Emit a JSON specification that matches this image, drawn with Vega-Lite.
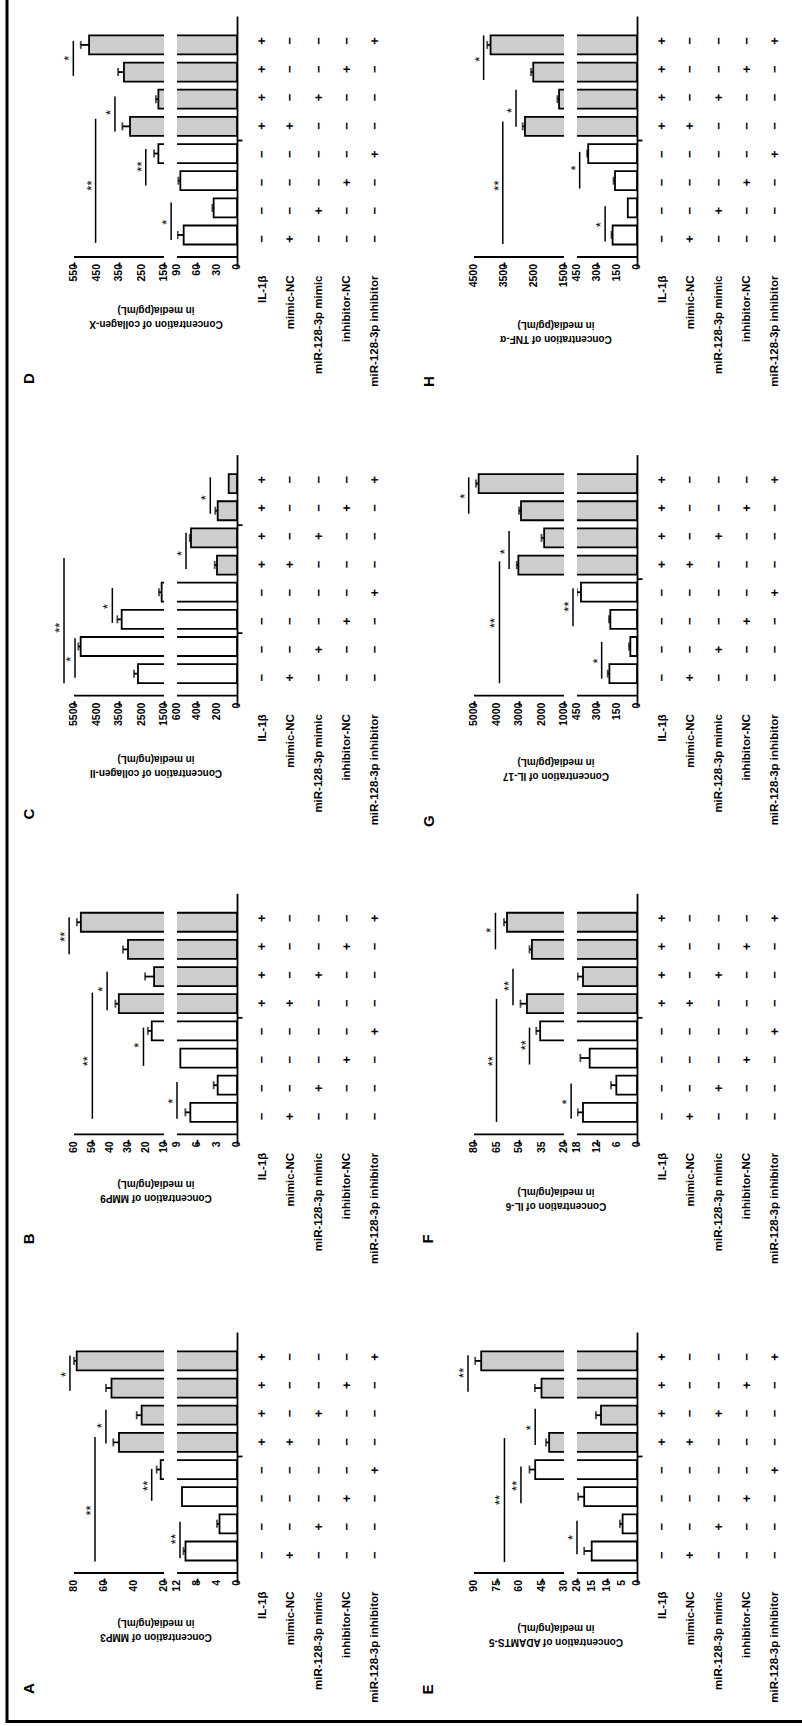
{
"$schema":"https://vega.github.io/schema/vega-lite/v6.json",
"padding":{"left":5.5,"top":0,"right":0,"bottom":0},
"background":"white",
"config":{
 "view":{"stroke":null},
 "font":"Liberation Sans",
 "axis":{"labelFont":"Liberation Sans","titleFont":"Liberation Sans","labelColor":"black","titleColor":"black","tickColor":"black","domainColor":"black","labelFontWeight":"bold","titleFontWeight":"bold","grid":false},
 "axisX":{"labelAngle":270,"tickSize":5,"tickWidth":1.8,"domain":false,"labelPadding":2,"labelFontSize":10.5,"labelFlush":false,"titleAngle":180,"titleFontSize":10,"titleLineHeight":14,"titleBaseline":"middle","titleAlign":"center"},
 "axisY":{"domainWidth":1.8,"tickSize":5,"tickWidth":1.8,"labels":false,"titleAngle":270,"titleFontSize":15,"titleAlign":"center","titleBaseline":"middle"},
 "rule":{"color":"black"},
 "tick":{"color":"black"},
 "text":{"color":"black","font":"Liberation Sans"}
},
"datasets":{
 "design":[
  {"pos":1,"IL-1β":"−","mimic-NC":"+","miR-128-3p mimic":"−","inhibitor-NC":"−","miR-128-3p inhibitor":"−"},
  {"pos":2,"IL-1β":"−","mimic-NC":"−","miR-128-3p mimic":"+","inhibitor-NC":"−","miR-128-3p inhibitor":"−"},
  {"pos":3,"IL-1β":"−","mimic-NC":"−","miR-128-3p mimic":"−","inhibitor-NC":"+","miR-128-3p inhibitor":"−"},
  {"pos":4,"IL-1β":"−","mimic-NC":"−","miR-128-3p mimic":"−","inhibitor-NC":"−","miR-128-3p inhibitor":"+"},
  {"pos":5,"IL-1β":"+","mimic-NC":"+","miR-128-3p mimic":"−","inhibitor-NC":"−","miR-128-3p inhibitor":"−"},
  {"pos":6,"IL-1β":"+","mimic-NC":"−","miR-128-3p mimic":"+","inhibitor-NC":"−","miR-128-3p inhibitor":"−"},
  {"pos":7,"IL-1β":"+","mimic-NC":"−","miR-128-3p mimic":"−","inhibitor-NC":"+","miR-128-3p inhibitor":"−"},
  {"pos":8,"IL-1β":"+","mimic-NC":"−","miR-128-3p mimic":"−","inhibitor-NC":"−","miR-128-3p inhibitor":"+"}
 ],
 "ticks":[
  {"panel":"A","v":0},{"panel":"A","v":4},{"panel":"A","v":8},{"panel":"A","v":12},{"panel":"A","v":20},{"panel":"A","v":40},{"panel":"A","v":60},{"panel":"A","v":80},
  {"panel":"B","v":0},{"panel":"B","v":3},{"panel":"B","v":6},{"panel":"B","v":9},{"panel":"B","v":10},{"panel":"B","v":20},{"panel":"B","v":30},{"panel":"B","v":40},{"panel":"B","v":50},{"panel":"B","v":60},
  {"panel":"C","v":0},{"panel":"C","v":200},{"panel":"C","v":400},{"panel":"C","v":600},{"panel":"C","v":1500},{"panel":"C","v":2500},{"panel":"C","v":3500},{"panel":"C","v":4500},{"panel":"C","v":5500},
  {"panel":"D","v":0},{"panel":"D","v":30},{"panel":"D","v":60},{"panel":"D","v":90},{"panel":"D","v":150},{"panel":"D","v":250},{"panel":"D","v":350},{"panel":"D","v":450},{"panel":"D","v":550},
  {"panel":"E","v":0},{"panel":"E","v":5},{"panel":"E","v":10},{"panel":"E","v":15},{"panel":"E","v":20},{"panel":"E","v":30},{"panel":"E","v":45},{"panel":"E","v":60},{"panel":"E","v":75},{"panel":"E","v":90},
  {"panel":"F","v":0},{"panel":"F","v":6},{"panel":"F","v":12},{"panel":"F","v":18},{"panel":"F","v":20},{"panel":"F","v":35},{"panel":"F","v":50},{"panel":"F","v":65},{"panel":"F","v":80},
  {"panel":"G","v":0},{"panel":"G","v":150},{"panel":"G","v":300},{"panel":"G","v":450},{"panel":"G","v":1000},{"panel":"G","v":2000},{"panel":"G","v":3000},{"panel":"G","v":4000},{"panel":"G","v":5000},
  {"panel":"H","v":0},{"panel":"H","v":150},{"panel":"H","v":300},{"panel":"H","v":450},{"panel":"H","v":1500},{"panel":"H","v":2500},{"panel":"H","v":3500},{"panel":"H","v":4500}
 ],
 "bars":[
  {"panel":"A","pos":1,"il":"−","value":10.3,"err":10.7},{"panel":"A","pos":2,"il":"−","value":3.5,"err":4.0},{"panel":"A","pos":3,"il":"−","value":11.0,"err":null},{"panel":"A","pos":4,"il":"−","value":22.2,"err":24.9},
  {"panel":"A","pos":5,"il":"+","value":50,"err":53.8},{"panel":"A","pos":6,"il":"+","value":34.9,"err":38.2},{"panel":"A","pos":7,"il":"+","value":55,"err":58.7},{"panel":"A","pos":8,"il":"+","value":78.2,"err":80},
  {"panel":"B","pos":1,"il":"−","value":7.0,"err":7.75},{"panel":"B","pos":2,"il":"−","value":2.9,"err":3.5},{"panel":"B","pos":3,"il":"−","value":8.5,"err":null},{"panel":"B","pos":4,"il":"−","value":16.8,"err":19},
  {"panel":"B","pos":5,"il":"+","value":35.1,"err":37},{"panel":"B","pos":6,"il":"+","value":15.5,"err":20.5},{"panel":"B","pos":7,"il":"+","value":30,"err":32.8},{"panel":"B","pos":8,"il":"+","value":56.2,"err":58.4},
  {"panel":"C","pos":1,"il":"−","value":2656,"err":2833},{"panel":"C","pos":2,"il":"−","value":5204,"err":5307},{"panel":"C","pos":3,"il":"−","value":3381,"err":3574},{"panel":"C","pos":4,"il":"−","value":1604,"err":1722},
  {"panel":"C","pos":5,"il":"+","value":200,"err":223},{"panel":"C","pos":6,"il":"+","value":460,"err":473},{"panel":"C","pos":7,"il":"+","value":193,"err":217},{"panel":"C","pos":8,"il":"+","value":83,"err":null},
  {"panel":"D","pos":1,"il":"−","value":80,"err":89},{"panel":"D","pos":2,"il":"−","value":35,"err":37},{"panel":"D","pos":3,"il":"−","value":85,"err":88},{"panel":"D","pos":4,"il":"−","value":175,"err":194},
  {"panel":"D","pos":5,"il":"+","value":301,"err":335},{"panel":"D","pos":6,"il":"+","value":175,"err":186},{"panel":"D","pos":7,"il":"+","value":328,"err":354},{"panel":"D","pos":8,"il":"+","value":483,"err":520},
  {"panel":"E","pos":1,"il":"−","value":15.1,"err":17.6},{"panel":"E","pos":2,"il":"−","value":4.8,"err":5.7},{"panel":"E","pos":3,"il":"−","value":17.6,"err":19.6},{"panel":"E","pos":4,"il":"−","value":49.2,"err":53},
  {"panel":"E","pos":5,"il":"+","value":39.9,"err":42},{"panel":"E","pos":6,"il":"+","value":12,"err":13.7},{"panel":"E","pos":7,"il":"+","value":45,"err":49.4},{"panel":"E","pos":8,"il":"+","value":85.2,"err":89.2},
  {"panel":"F","pos":1,"il":"−","value":16.2,"err":17.8},{"panel":"F","pos":2,"il":"−","value":6.2,"err":7.8},{"panel":"F","pos":3,"il":"−","value":14.2,"err":17},{"panel":"F","pos":4,"il":"−","value":35.9,"err":38.5},
  {"panel":"F","pos":5,"il":"+","value":44.7,"err":49},{"panel":"F","pos":6,"il":"+","value":16.2,"err":17.8},{"panel":"F","pos":7,"il":"+","value":41.4,"err":43},{"panel":"F","pos":8,"il":"+","value":58,"err":60},
  {"panel":"G","pos":1,"il":"−","value":207,"err":220},{"panel":"G","pos":2,"il":"−","value":50,"err":60},{"panel":"G","pos":3,"il":"−","value":200,"err":210},{"panel":"G","pos":4,"il":"−","value":420,"err":452},
  {"panel":"G","pos":5,"il":"+","value":3029,"err":3100},{"panel":"G","pos":6,"il":"+","value":1882,"err":2000},{"panel":"G","pos":7,"il":"+","value":2911,"err":3000},{"panel":"G","pos":8,"il":"+","value":4794,"err":4912},
  {"panel":"H","pos":1,"il":"−","value":183,"err":191},{"panel":"H","pos":2,"il":"−","value":69,"err":null},{"panel":"H","pos":3,"il":"−","value":165,"err":176},{"panel":"H","pos":4,"il":"−","value":366,"err":374},
  {"panel":"H","pos":5,"il":"+","value":2801,"err":2878},{"panel":"H","pos":6,"il":"+","value":1665,"err":1720},{"panel":"H","pos":7,"il":"+","value":2525,"err":2600},{"panel":"H","pos":8,"il":"+","value":3948,"err":4058}
 ],
 "axes":[
  {"panel":"A","z":0,"lo":12,"hi":20,"max":80},{"panel":"B","z":0,"lo":9,"hi":10,"max":60},{"panel":"C","z":0,"lo":600,"hi":1500,"max":5500},{"panel":"D","z":0,"lo":90,"hi":150,"max":550},
  {"panel":"E","z":0,"lo":20,"hi":30,"max":90},{"panel":"F","z":0,"lo":18,"hi":20,"max":80},{"panel":"G","z":0,"lo":450,"hi":1000,"max":5000},{"panel":"H","z":0,"lo":450,"hi":1500,"max":4500}
 ],
 "ann":[
  {"panel":"A","from":0.73,"to":2.08,"mid":1.44,"val":11.4,"label":"**"},{"panel":"A","from":2.85,"to":4.02,"mid":3.4,"val":28.2,"label":"**"},{"panel":"A","from":0.61,"to":5.2,"mid":2.49,"val":66,"label":"**"},{"panel":"A","from":4.96,"to":6.2,"mid":5.61,"val":58.7,"label":"*"},{"panel":"A","from":6.9,"to":8.2,"mid":7.5,"val":82.7,"label":"*"},
  {"panel":"B","from":0.76,"to":2.12,"mid":1.41,"val":9.0,"label":"*"},{"panel":"B","from":2.71,"to":4.12,"mid":3.47,"val":21.4,"label":"*"},{"panel":"B","from":0.76,"to":5.41,"mid":2.88,"val":49.8,"label":"**"},{"panel":"B","from":4.76,"to":6.18,"mid":5.53,"val":41.6,"label":"*"},{"panel":"B","from":6.82,"to":8.18,"mid":7.47,"val":62.7,"label":"**"},
  {"panel":"C","from":0.85,"to":2.3,"mid":1.53,"val":5455,"label":"*"},{"panel":"C","from":0.65,"to":5.26,"mid":2.69,"val":5944,"label":"**"},{"panel":"C","from":2.87,"to":4.15,"mid":3.47,"val":3796,"label":"*"},{"panel":"C","from":4.85,"to":6.19,"mid":5.43,"val":510,"label":"*"},{"panel":"C","from":6.89,"to":8.23,"mid":7.48,"val":267,"label":"*"},
  {"panel":"D","from":0.82,"to":2.2,"mid":1.47,"val":117,"label":"*"},{"panel":"D","from":2.82,"to":4.17,"mid":3.52,"val":231,"label":"**"},{"panel":"D","from":0.71,"to":5.28,"mid":2.82,"val":454,"label":"**"},{"panel":"D","from":4.81,"to":6.1,"mid":5.51,"val":368,"label":"*"},{"panel":"D","from":6.86,"to":8.15,"mid":7.51,"val":553,"label":"*"},
  {"panel":"E","from":0.88,"to":2.11,"mid":1.5,"val":20,"label":"*"},{"panel":"E","from":2.76,"to":4.11,"mid":3.4,"val":58.7,"label":"**"},{"panel":"E","from":0.59,"to":5.16,"mid":2.88,"val":69.7,"label":"**"},{"panel":"E","from":4.9,"to":6.24,"mid":5.54,"val":49.2,"label":"*"},{"panel":"E","from":6.86,"to":8.21,"mid":7.56,"val":94,"label":"**"},
  {"panel":"F","from":0.76,"to":2.06,"mid":1.38,"val":18.9,"label":"*"},{"panel":"F","from":2.76,"to":4.12,"mid":3.47,"val":43,"label":"**"},{"panel":"F","from":0.65,"to":5.18,"mid":2.88,"val":65,"label":"**"},{"panel":"F","from":4.94,"to":6.29,"mid":5.65,"val":54,"label":"**"},{"panel":"F","from":7.0,"to":8.35,"mid":7.71,"val":65.7,"label":"*"},
  {"panel":"G","from":0.82,"to":2.17,"mid":1.47,"val":265,"label":"*"},{"panel":"G","from":2.75,"to":4.15,"mid":3.47,"val":619,"label":"**"},{"panel":"G","from":0.65,"to":5.14,"mid":2.87,"val":3868,"label":"**"},{"panel":"G","from":4.85,"to":6.25,"mid":5.49,"val":3441,"label":"*"},{"panel":"G","from":6.89,"to":8.23,"mid":7.53,"val":5235,"label":"*"},
  {"panel":"H","from":0.76,"to":2.06,"mid":1.38,"val":239,"label":"*"},{"panel":"H","from":2.71,"to":4.06,"mid":3.47,"val":430,"label":"*"},{"panel":"H","from":0.67,"to":5.18,"mid":2.82,"val":3540,"label":"**"},{"panel":"H","from":4.99,"to":6.35,"mid":5.59,"val":3099,"label":"*"},{"panel":"H","from":6.71,"to":8.35,"mid":7.47,"val":4179,"label":"*"}
 ]
},
"spacing":0,
"vconcat":[
 {"spacing":12.5,"hconcat":[
  {"width":1,"height":1718,"data":{"values":[{"k":1}]},"mark":{"type":"point","opacity":0,"size":0,"strokeWidth":0},"encoding":{},"view":{"stroke":"black","strokeWidth":2}},
  {"spacing":14,"vconcat":[
   {"width":1,"height":1,"data":{"values":[{"k":1}]},"mark":{"type":"point","opacity":0,"size":0,"strokeWidth":0},"encoding":{}},
   {"columns":4,"bounds":"flush","align":"each","spacing":{"row":192.67,"column":11},"concat":[
       {"width":163,"height":246,"layer":[
        {"data":{"name":"bars"},"transform":[{"filter":"datum.panel=='D'"}],"mark":{"type":"bar","orient":"horizontal","size":19,"stroke":"black","strokeWidth":1.8},
         "encoding":{"x":{"field":"value","type":"quantitative","stack":null,"scale":{"domain":[0,90,150,550],"range":[163,103,90,0],"nice":false,"zero":false},"axis":{"labels":false,"values":[0,30,60,90,150,250,350,450,550],"title":["Concentration of collagen-X","in media(pg/mL)"],"titleY":61}},
          "y":{"field":"pos","type":"quantitative","scale":{"domain":[0.19,8.88],"nice":false,"zero":false},"axis":{"orient":"right","values":[4.5],"title":"D","titleX":-209,"titleY":362}},
          "fill":{"field":"il","type":"nominal","scale":{"domain":["−","+"],"range":["#ffffff","#cdcdcd"]},"legend":null}}},
        {"data":{"name":"bars"},"transform":[{"filter":"datum.panel=='D'"}],"mark":{"type":"rule","strokeWidth":1.8},"encoding":{"x":{"field":"value","type":"quantitative"},"x2":{"field":"err"},"y":{"field":"pos","type":"quantitative"}}},
        {"data":{"name":"bars"},"transform":[{"filter":"datum.panel=='D'"}],"mark":{"type":"tick","orient":"vertical","size":8,"thickness":1.8},"encoding":{"x":{"field":"err","type":"quantitative"},"y":{"field":"pos","type":"quantitative"}}},
        {"data":{"name":"axes"},"transform":[{"filter":"datum.panel=='D'"}],"mark":{"type":"rect","fill":"white"},"encoding":{"x":{"field":"lo","type":"quantitative"},"x2":{"field":"hi"}}},
        {"data":{"name":"axes"},"transform":[{"filter":"datum.panel=='D'"}],"mark":{"type":"rule","strokeWidth":1.8},"encoding":{"x":{"field":"z","type":"quantitative"},"x2":{"field":"lo"},"y":{"datum":0.19}}},
        {"data":{"name":"axes"},"transform":[{"filter":"datum.panel=='D'"}],"mark":{"type":"rule","strokeWidth":1.8},"encoding":{"x":{"field":"hi","type":"quantitative"},"x2":{"field":"max"},"y":{"datum":0.19}}},
        {"data":{"name":"ticks"},"transform":[{"filter":"datum.panel=='D'"}],"mark":{"type":"text","angle":270,"align":"right","baseline":"middle","dx":-7,"fontSize":10.5,"fontWeight":"bold"},"encoding":{"x":{"field":"v","type":"quantitative"},"y":{"datum":0.19},"text":{"field":"v","type":"quantitative","format":"d"}}},
        {"data":{"name":"ann"},"transform":[{"filter":"datum.panel=='D'"}],"mark":{"type":"rule","strokeWidth":1.5},"encoding":{"x":{"field":"val","type":"quantitative"},"y":{"field":"from","type":"quantitative"},"y2":{"field":"to"}}},
        {"data":{"name":"ann"},"transform":[{"filter":"datum.panel=='D'"}],"mark":{"type":"text","angle":270,"baseline":"alphabetic","fontSize":13},"encoding":{"x":{"field":"val","type":"quantitative"},"y":{"field":"mid","type":"quantitative"},"text":{"field":"label"}}}
       ]},
       {"width":214.5,"height":246,"data":{"name":"design"},"transform":[{"fold":["IL-1β","mimic-NC","miR-128-3p mimic","inhibitor-NC","miR-128-3p inhibitor"],"as":["factor","sign"]}],
        "mark":{"type":"text","angle":270,"fontSize":13,"fontWeight":"bold","baseline":"middle"},
        "encoding":{"x":{"field":"factor","type":"nominal","sort":["IL-1β","mimic-NC","miR-128-3p mimic","inhibitor-NC","miR-128-3p inhibitor"],"scale":{"range":[0,141]},"axis":{"title":null,"domain":false,"ticks":false,"labelPadding":13,"labelFontSize":11.5}},
         "y":{"field":"pos","type":"quantitative","scale":{"domain":[0.19,8.88],"nice":false,"zero":false},"axis":null},
         "text":{"field":"sign"}}},
       {"width":163,"height":246,"layer":[
        {"data":{"name":"bars"},"transform":[{"filter":"datum.panel=='H'"}],"mark":{"type":"bar","orient":"horizontal","size":19,"stroke":"black","strokeWidth":1.8},
         "encoding":{"x":{"field":"value","type":"quantitative","stack":null,"scale":{"domain":[0,450,1500,4500],"range":[163,103,90,0],"nice":false,"zero":false},"axis":{"labels":false,"values":[0,150,300,450,1500,2500,3500,4500],"title":["Concentration of TNF-α","in media(pg/mL)"],"titleY":76}},
          "y":{"field":"pos","type":"quantitative","scale":{"domain":[0.19,8.88],"nice":false,"zero":false},"axis":{"orient":"right","values":[4.5],"title":"H","titleX":-209,"titleY":365}},
          "fill":{"field":"il","type":"nominal","scale":{"domain":["−","+"],"range":["#ffffff","#cdcdcd"]},"legend":null}}},
        {"data":{"name":"bars"},"transform":[{"filter":"datum.panel=='H'"}],"mark":{"type":"rule","strokeWidth":1.8},"encoding":{"x":{"field":"value","type":"quantitative"},"x2":{"field":"err"},"y":{"field":"pos","type":"quantitative"}}},
        {"data":{"name":"bars"},"transform":[{"filter":"datum.panel=='H'"}],"mark":{"type":"tick","orient":"vertical","size":8,"thickness":1.8},"encoding":{"x":{"field":"err","type":"quantitative"},"y":{"field":"pos","type":"quantitative"}}},
        {"data":{"name":"axes"},"transform":[{"filter":"datum.panel=='H'"}],"mark":{"type":"rect","fill":"white"},"encoding":{"x":{"field":"lo","type":"quantitative"},"x2":{"field":"hi"}}},
        {"data":{"name":"axes"},"transform":[{"filter":"datum.panel=='H'"}],"mark":{"type":"rule","strokeWidth":1.8},"encoding":{"x":{"field":"z","type":"quantitative"},"x2":{"field":"lo"},"y":{"datum":0.19}}},
        {"data":{"name":"axes"},"transform":[{"filter":"datum.panel=='H'"}],"mark":{"type":"rule","strokeWidth":1.8},"encoding":{"x":{"field":"hi","type":"quantitative"},"x2":{"field":"max"},"y":{"datum":0.19}}},
        {"data":{"name":"ticks"},"transform":[{"filter":"datum.panel=='H'"}],"mark":{"type":"text","angle":270,"align":"right","baseline":"middle","dx":-7,"fontSize":10.5,"fontWeight":"bold"},"encoding":{"x":{"field":"v","type":"quantitative"},"y":{"datum":0.19},"text":{"field":"v","type":"quantitative","format":"d"}}},
        {"data":{"name":"ann"},"transform":[{"filter":"datum.panel=='H'"}],"mark":{"type":"rule","strokeWidth":1.5},"encoding":{"x":{"field":"val","type":"quantitative"},"y":{"field":"from","type":"quantitative"},"y2":{"field":"to"}}},
        {"data":{"name":"ann"},"transform":[{"filter":"datum.panel=='H'"}],"mark":{"type":"text","angle":270,"baseline":"alphabetic","fontSize":13},"encoding":{"x":{"field":"val","type":"quantitative"},"y":{"field":"mid","type":"quantitative"},"text":{"field":"label"}}}
       ]},
       {"width":141,"height":246,"data":{"name":"design"},"transform":[{"fold":["IL-1β","mimic-NC","miR-128-3p mimic","inhibitor-NC","miR-128-3p inhibitor"],"as":["factor","sign"]}],
        "mark":{"type":"text","angle":270,"fontSize":13,"fontWeight":"bold","baseline":"middle"},
        "encoding":{"x":{"field":"factor","type":"nominal","sort":["IL-1β","mimic-NC","miR-128-3p mimic","inhibitor-NC","miR-128-3p inhibitor"],"axis":{"title":null,"domain":false,"ticks":false,"labelPadding":13,"labelFontSize":11.5}},
         "y":{"field":"pos","type":"quantitative","scale":{"domain":[0.19,8.88],"nice":false,"zero":false},"axis":null},
         "text":{"field":"sign"}}},
       {"width":163,"height":246,"layer":[
        {"data":{"name":"bars"},"transform":[{"filter":"datum.panel=='C'"}],"mark":{"type":"bar","orient":"horizontal","size":19,"stroke":"black","strokeWidth":1.8},
         "encoding":{"x":{"field":"value","type":"quantitative","stack":null,"scale":{"domain":[0,600,1500,5500],"range":[163,103,90,0],"nice":false,"zero":false},"axis":{"labels":false,"values":[0,200,400,600,1500,2500,3500,4500,5500],"title":["Concentration of collagen-II","in media(ng/mL)"],"titleY":72}},
          "y":{"field":"pos","type":"quantitative","scale":{"domain":[0.19,8.88],"nice":false,"zero":false},"axis":{"orient":"right","values":[2.5,6.5],"title":"C","titleX":-209,"titleY":359}},
          "fill":{"field":"il","type":"nominal","scale":{"domain":["−","+"],"range":["#ffffff","#cdcdcd"]},"legend":null}}},
        {"data":{"name":"bars"},"transform":[{"filter":"datum.panel=='C'"}],"mark":{"type":"rule","strokeWidth":1.8},"encoding":{"x":{"field":"value","type":"quantitative"},"x2":{"field":"err"},"y":{"field":"pos","type":"quantitative"}}},
        {"data":{"name":"bars"},"transform":[{"filter":"datum.panel=='C'"}],"mark":{"type":"tick","orient":"vertical","size":8,"thickness":1.8},"encoding":{"x":{"field":"err","type":"quantitative"},"y":{"field":"pos","type":"quantitative"}}},
        {"data":{"name":"axes"},"transform":[{"filter":"datum.panel=='C'"}],"mark":{"type":"rect","fill":"white"},"encoding":{"x":{"field":"lo","type":"quantitative"},"x2":{"field":"hi"}}},
        {"data":{"name":"axes"},"transform":[{"filter":"datum.panel=='C'"}],"mark":{"type":"rule","strokeWidth":1.8},"encoding":{"x":{"field":"z","type":"quantitative"},"x2":{"field":"lo"},"y":{"datum":0.19}}},
        {"data":{"name":"axes"},"transform":[{"filter":"datum.panel=='C'"}],"mark":{"type":"rule","strokeWidth":1.8},"encoding":{"x":{"field":"hi","type":"quantitative"},"x2":{"field":"max"},"y":{"datum":0.19}}},
        {"data":{"name":"ticks"},"transform":[{"filter":"datum.panel=='C'"}],"mark":{"type":"text","angle":270,"align":"right","baseline":"middle","dx":-7,"fontSize":10.5,"fontWeight":"bold"},"encoding":{"x":{"field":"v","type":"quantitative"},"y":{"datum":0.19},"text":{"field":"v","type":"quantitative","format":"d"}}},
        {"data":{"name":"ann"},"transform":[{"filter":"datum.panel=='C'"}],"mark":{"type":"rule","strokeWidth":1.5},"encoding":{"x":{"field":"val","type":"quantitative"},"y":{"field":"from","type":"quantitative"},"y2":{"field":"to"}}},
        {"data":{"name":"ann"},"transform":[{"filter":"datum.panel=='C'"}],"mark":{"type":"text","angle":270,"baseline":"alphabetic","fontSize":13},"encoding":{"x":{"field":"val","type":"quantitative"},"y":{"field":"mid","type":"quantitative"},"text":{"field":"label"}}}
       ]},
       {"width":214.5,"height":246,"data":{"name":"design"},"transform":[{"fold":["IL-1β","mimic-NC","miR-128-3p mimic","inhibitor-NC","miR-128-3p inhibitor"],"as":["factor","sign"]}],
        "mark":{"type":"text","angle":270,"fontSize":13,"fontWeight":"bold","baseline":"middle"},
        "encoding":{"x":{"field":"factor","type":"nominal","sort":["IL-1β","mimic-NC","miR-128-3p mimic","inhibitor-NC","miR-128-3p inhibitor"],"scale":{"range":[0,141]},"axis":{"title":null,"domain":false,"ticks":false,"labelPadding":13,"labelFontSize":11.5}},
         "y":{"field":"pos","type":"quantitative","scale":{"domain":[0.19,8.88],"nice":false,"zero":false},"axis":null},
         "text":{"field":"sign"}}},
       {"width":163,"height":246,"layer":[
        {"data":{"name":"bars"},"transform":[{"filter":"datum.panel=='G'"}],"mark":{"type":"bar","orient":"horizontal","size":19,"stroke":"black","strokeWidth":1.8},
         "encoding":{"x":{"field":"value","type":"quantitative","stack":null,"scale":{"domain":[0,450,1000,5000],"range":[163,103,90,0],"nice":false,"zero":false},"axis":{"labels":false,"values":[0,150,300,450,1000,2000,3000,4000,5000],"title":["Concentration of IL-17","in media(pg/mL)"],"titleY":75}},
          "y":{"field":"pos","type":"quantitative","scale":{"domain":[0.19,8.88],"nice":false,"zero":false},"axis":{"orient":"right","values":[4.5],"title":"G","titleX":-209,"titleY":366}},
          "fill":{"field":"il","type":"nominal","scale":{"domain":["−","+"],"range":["#ffffff","#cdcdcd"]},"legend":null}}},
        {"data":{"name":"bars"},"transform":[{"filter":"datum.panel=='G'"}],"mark":{"type":"rule","strokeWidth":1.8},"encoding":{"x":{"field":"value","type":"quantitative"},"x2":{"field":"err"},"y":{"field":"pos","type":"quantitative"}}},
        {"data":{"name":"bars"},"transform":[{"filter":"datum.panel=='G'"}],"mark":{"type":"tick","orient":"vertical","size":8,"thickness":1.8},"encoding":{"x":{"field":"err","type":"quantitative"},"y":{"field":"pos","type":"quantitative"}}},
        {"data":{"name":"axes"},"transform":[{"filter":"datum.panel=='G'"}],"mark":{"type":"rect","fill":"white"},"encoding":{"x":{"field":"lo","type":"quantitative"},"x2":{"field":"hi"}}},
        {"data":{"name":"axes"},"transform":[{"filter":"datum.panel=='G'"}],"mark":{"type":"rule","strokeWidth":1.8},"encoding":{"x":{"field":"z","type":"quantitative"},"x2":{"field":"lo"},"y":{"datum":0.19}}},
        {"data":{"name":"axes"},"transform":[{"filter":"datum.panel=='G'"}],"mark":{"type":"rule","strokeWidth":1.8},"encoding":{"x":{"field":"hi","type":"quantitative"},"x2":{"field":"max"},"y":{"datum":0.19}}},
        {"data":{"name":"ticks"},"transform":[{"filter":"datum.panel=='G'"}],"mark":{"type":"text","angle":270,"align":"right","baseline":"middle","dx":-7,"fontSize":10.5,"fontWeight":"bold"},"encoding":{"x":{"field":"v","type":"quantitative"},"y":{"datum":0.19},"text":{"field":"v","type":"quantitative","format":"d"}}},
        {"data":{"name":"ann"},"transform":[{"filter":"datum.panel=='G'"}],"mark":{"type":"rule","strokeWidth":1.5},"encoding":{"x":{"field":"val","type":"quantitative"},"y":{"field":"from","type":"quantitative"},"y2":{"field":"to"}}},
        {"data":{"name":"ann"},"transform":[{"filter":"datum.panel=='G'"}],"mark":{"type":"text","angle":270,"baseline":"alphabetic","fontSize":13},"encoding":{"x":{"field":"val","type":"quantitative"},"y":{"field":"mid","type":"quantitative"},"text":{"field":"label"}}}
       ]},
       {"width":141,"height":246,"data":{"name":"design"},"transform":[{"fold":["IL-1β","mimic-NC","miR-128-3p mimic","inhibitor-NC","miR-128-3p inhibitor"],"as":["factor","sign"]}],
        "mark":{"type":"text","angle":270,"fontSize":13,"fontWeight":"bold","baseline":"middle"},
        "encoding":{"x":{"field":"factor","type":"nominal","sort":["IL-1β","mimic-NC","miR-128-3p mimic","inhibitor-NC","miR-128-3p inhibitor"],"axis":{"title":null,"domain":false,"ticks":false,"labelPadding":13,"labelFontSize":11.5}},
         "y":{"field":"pos","type":"quantitative","scale":{"domain":[0.19,8.88],"nice":false,"zero":false},"axis":null},
         "text":{"field":"sign"}}},
       {"width":163,"height":246,"layer":[
        {"data":{"name":"bars"},"transform":[{"filter":"datum.panel=='B'"}],"mark":{"type":"bar","orient":"horizontal","size":19,"stroke":"black","strokeWidth":1.8},
         "encoding":{"x":{"field":"value","type":"quantitative","stack":null,"scale":{"domain":[0,9,10,60],"range":[163,103,90,0],"nice":false,"zero":false},"axis":{"labels":false,"values":[0,3,6,9,10,20,30,40,50,60],"title":["Concentration of MMP9","in media(ng/mL)"],"titleY":58}},
          "y":{"field":"pos","type":"quantitative","scale":{"domain":[0.19,8.88],"nice":false,"zero":false},"axis":{"orient":"right","values":[4.5],"title":"B","titleX":-209,"titleY":345}},
          "fill":{"field":"il","type":"nominal","scale":{"domain":["−","+"],"range":["#ffffff","#cdcdcd"]},"legend":null}}},
        {"data":{"name":"bars"},"transform":[{"filter":"datum.panel=='B'"}],"mark":{"type":"rule","strokeWidth":1.8},"encoding":{"x":{"field":"value","type":"quantitative"},"x2":{"field":"err"},"y":{"field":"pos","type":"quantitative"}}},
        {"data":{"name":"bars"},"transform":[{"filter":"datum.panel=='B'"}],"mark":{"type":"tick","orient":"vertical","size":8,"thickness":1.8},"encoding":{"x":{"field":"err","type":"quantitative"},"y":{"field":"pos","type":"quantitative"}}},
        {"data":{"name":"axes"},"transform":[{"filter":"datum.panel=='B'"}],"mark":{"type":"rect","fill":"white"},"encoding":{"x":{"field":"lo","type":"quantitative"},"x2":{"field":"hi"}}},
        {"data":{"name":"axes"},"transform":[{"filter":"datum.panel=='B'"}],"mark":{"type":"rule","strokeWidth":1.8},"encoding":{"x":{"field":"z","type":"quantitative"},"x2":{"field":"lo"},"y":{"datum":0.19}}},
        {"data":{"name":"axes"},"transform":[{"filter":"datum.panel=='B'"}],"mark":{"type":"rule","strokeWidth":1.8},"encoding":{"x":{"field":"hi","type":"quantitative"},"x2":{"field":"max"},"y":{"datum":0.19}}},
        {"data":{"name":"ticks"},"transform":[{"filter":"datum.panel=='B'"}],"mark":{"type":"text","angle":270,"align":"right","baseline":"middle","dx":-7,"fontSize":10.5,"fontWeight":"bold"},"encoding":{"x":{"field":"v","type":"quantitative"},"y":{"datum":0.19},"text":{"field":"v","type":"quantitative","format":"d"}}},
        {"data":{"name":"ann"},"transform":[{"filter":"datum.panel=='B'"}],"mark":{"type":"rule","strokeWidth":1.5},"encoding":{"x":{"field":"val","type":"quantitative"},"y":{"field":"from","type":"quantitative"},"y2":{"field":"to"}}},
        {"data":{"name":"ann"},"transform":[{"filter":"datum.panel=='B'"}],"mark":{"type":"text","angle":270,"baseline":"alphabetic","fontSize":13},"encoding":{"x":{"field":"val","type":"quantitative"},"y":{"field":"mid","type":"quantitative"},"text":{"field":"label"}}}
       ]},
       {"width":214.5,"height":246,"data":{"name":"design"},"transform":[{"fold":["IL-1β","mimic-NC","miR-128-3p mimic","inhibitor-NC","miR-128-3p inhibitor"],"as":["factor","sign"]}],
        "mark":{"type":"text","angle":270,"fontSize":13,"fontWeight":"bold","baseline":"middle"},
        "encoding":{"x":{"field":"factor","type":"nominal","sort":["IL-1β","mimic-NC","miR-128-3p mimic","inhibitor-NC","miR-128-3p inhibitor"],"scale":{"range":[0,141]},"axis":{"title":null,"domain":false,"ticks":false,"labelPadding":13,"labelFontSize":11.5}},
         "y":{"field":"pos","type":"quantitative","scale":{"domain":[0.19,8.88],"nice":false,"zero":false},"axis":null},
         "text":{"field":"sign"}}},
       {"width":163,"height":246,"layer":[
        {"data":{"name":"bars"},"transform":[{"filter":"datum.panel=='F'"}],"mark":{"type":"bar","orient":"horizontal","size":19,"stroke":"black","strokeWidth":1.8},
         "encoding":{"x":{"field":"value","type":"quantitative","stack":null,"scale":{"domain":[0,18,20,80],"range":[163,103,90,0],"nice":false,"zero":false},"axis":{"labels":false,"values":[0,6,12,18,20,35,50,65,80],"title":["Concentration of IL-6","in media(ng/mL)"],"titleY":66}},
          "y":{"field":"pos","type":"quantitative","scale":{"domain":[0.19,8.88],"nice":false,"zero":false},"axis":{"orient":"right","values":[4.5],"title":"F","titleX":-210,"titleY":345}},
          "fill":{"field":"il","type":"nominal","scale":{"domain":["−","+"],"range":["#ffffff","#cdcdcd"]},"legend":null}}},
        {"data":{"name":"bars"},"transform":[{"filter":"datum.panel=='F'"}],"mark":{"type":"rule","strokeWidth":1.8},"encoding":{"x":{"field":"value","type":"quantitative"},"x2":{"field":"err"},"y":{"field":"pos","type":"quantitative"}}},
        {"data":{"name":"bars"},"transform":[{"filter":"datum.panel=='F'"}],"mark":{"type":"tick","orient":"vertical","size":8,"thickness":1.8},"encoding":{"x":{"field":"err","type":"quantitative"},"y":{"field":"pos","type":"quantitative"}}},
        {"data":{"name":"axes"},"transform":[{"filter":"datum.panel=='F'"}],"mark":{"type":"rect","fill":"white"},"encoding":{"x":{"field":"lo","type":"quantitative"},"x2":{"field":"hi"}}},
        {"data":{"name":"axes"},"transform":[{"filter":"datum.panel=='F'"}],"mark":{"type":"rule","strokeWidth":1.8},"encoding":{"x":{"field":"z","type":"quantitative"},"x2":{"field":"lo"},"y":{"datum":0.19}}},
        {"data":{"name":"axes"},"transform":[{"filter":"datum.panel=='F'"}],"mark":{"type":"rule","strokeWidth":1.8},"encoding":{"x":{"field":"hi","type":"quantitative"},"x2":{"field":"max"},"y":{"datum":0.19}}},
        {"data":{"name":"ticks"},"transform":[{"filter":"datum.panel=='F'"}],"mark":{"type":"text","angle":270,"align":"right","baseline":"middle","dx":-7,"fontSize":10.5,"fontWeight":"bold"},"encoding":{"x":{"field":"v","type":"quantitative"},"y":{"datum":0.19},"text":{"field":"v","type":"quantitative","format":"d"}}},
        {"data":{"name":"ann"},"transform":[{"filter":"datum.panel=='F'"}],"mark":{"type":"rule","strokeWidth":1.5},"encoding":{"x":{"field":"val","type":"quantitative"},"y":{"field":"from","type":"quantitative"},"y2":{"field":"to"}}},
        {"data":{"name":"ann"},"transform":[{"filter":"datum.panel=='F'"}],"mark":{"type":"text","angle":270,"baseline":"alphabetic","fontSize":13},"encoding":{"x":{"field":"val","type":"quantitative"},"y":{"field":"mid","type":"quantitative"},"text":{"field":"label"}}}
       ]},
       {"width":141,"height":246,"data":{"name":"design"},"transform":[{"fold":["IL-1β","mimic-NC","miR-128-3p mimic","inhibitor-NC","miR-128-3p inhibitor"],"as":["factor","sign"]}],
        "mark":{"type":"text","angle":270,"fontSize":13,"fontWeight":"bold","baseline":"middle"},
        "encoding":{"x":{"field":"factor","type":"nominal","sort":["IL-1β","mimic-NC","miR-128-3p mimic","inhibitor-NC","miR-128-3p inhibitor"],"axis":{"title":null,"domain":false,"ticks":false,"labelPadding":13,"labelFontSize":11.5}},
         "y":{"field":"pos","type":"quantitative","scale":{"domain":[0.19,8.88],"nice":false,"zero":false},"axis":null},
         "text":{"field":"sign"}}},
       {"width":163,"height":246,"layer":[
        {"data":{"name":"bars"},"transform":[{"filter":"datum.panel=='A'"}],"mark":{"type":"bar","orient":"horizontal","size":19,"stroke":"black","strokeWidth":1.8},
         "encoding":{"x":{"field":"value","type":"quantitative","stack":null,"scale":{"domain":[0,12,20,80],"range":[163,103,90,0],"nice":false,"zero":false},"axis":{"labels":false,"values":[0,4,8,12,20,40,60,80],"title":["Concentration of MMP3","in media(ng/mL)"],"titleY":58}},
          "y":{"field":"pos","type":"quantitative","scale":{"domain":[0.19,8.88],"nice":false,"zero":false},"axis":{"orient":"right","values":[4.5],"title":"A","titleX":-209,"titleY":356}},
          "fill":{"field":"il","type":"nominal","scale":{"domain":["−","+"],"range":["#ffffff","#cdcdcd"]},"legend":null}}},
        {"data":{"name":"bars"},"transform":[{"filter":"datum.panel=='A'"}],"mark":{"type":"rule","strokeWidth":1.8},"encoding":{"x":{"field":"value","type":"quantitative"},"x2":{"field":"err"},"y":{"field":"pos","type":"quantitative"}}},
        {"data":{"name":"bars"},"transform":[{"filter":"datum.panel=='A'"}],"mark":{"type":"tick","orient":"vertical","size":8,"thickness":1.8},"encoding":{"x":{"field":"err","type":"quantitative"},"y":{"field":"pos","type":"quantitative"}}},
        {"data":{"name":"axes"},"transform":[{"filter":"datum.panel=='A'"}],"mark":{"type":"rect","fill":"white"},"encoding":{"x":{"field":"lo","type":"quantitative"},"x2":{"field":"hi"}}},
        {"data":{"name":"axes"},"transform":[{"filter":"datum.panel=='A'"}],"mark":{"type":"rule","strokeWidth":1.8},"encoding":{"x":{"field":"z","type":"quantitative"},"x2":{"field":"lo"},"y":{"datum":0.19}}},
        {"data":{"name":"axes"},"transform":[{"filter":"datum.panel=='A'"}],"mark":{"type":"rule","strokeWidth":1.8},"encoding":{"x":{"field":"hi","type":"quantitative"},"x2":{"field":"max"},"y":{"datum":0.19}}},
        {"data":{"name":"ticks"},"transform":[{"filter":"datum.panel=='A'"}],"mark":{"type":"text","angle":270,"align":"right","baseline":"middle","dx":-7,"fontSize":10.5,"fontWeight":"bold"},"encoding":{"x":{"field":"v","type":"quantitative"},"y":{"datum":0.19},"text":{"field":"v","type":"quantitative","format":"d"}}},
        {"data":{"name":"ann"},"transform":[{"filter":"datum.panel=='A'"}],"mark":{"type":"rule","strokeWidth":1.5},"encoding":{"x":{"field":"val","type":"quantitative"},"y":{"field":"from","type":"quantitative"},"y2":{"field":"to"}}},
        {"data":{"name":"ann"},"transform":[{"filter":"datum.panel=='A'"}],"mark":{"type":"text","angle":270,"baseline":"alphabetic","fontSize":13},"encoding":{"x":{"field":"val","type":"quantitative"},"y":{"field":"mid","type":"quantitative"},"text":{"field":"label"}}}
       ]},
       {"width":214.5,"height":246,"data":{"name":"design"},"transform":[{"fold":["IL-1β","mimic-NC","miR-128-3p mimic","inhibitor-NC","miR-128-3p inhibitor"],"as":["factor","sign"]}],
        "mark":{"type":"text","angle":270,"fontSize":13,"fontWeight":"bold","baseline":"middle"},
        "encoding":{"x":{"field":"factor","type":"nominal","sort":["IL-1β","mimic-NC","miR-128-3p mimic","inhibitor-NC","miR-128-3p inhibitor"],"scale":{"range":[0,141]},"axis":{"title":null,"domain":false,"ticks":false,"labelPadding":13,"labelFontSize":11.5}},
         "y":{"field":"pos","type":"quantitative","scale":{"domain":[0.19,8.88],"nice":false,"zero":false},"axis":null},
         "text":{"field":"sign"}}},
       {"width":163,"height":246,"layer":[
        {"data":{"name":"bars"},"transform":[{"filter":"datum.panel=='E'"}],"mark":{"type":"bar","orient":"horizontal","size":19,"stroke":"black","strokeWidth":1.8},
         "encoding":{"x":{"field":"value","type":"quantitative","stack":null,"scale":{"domain":[0,20,30,90],"range":[163,103,90,0],"nice":false,"zero":false},"axis":{"labels":false,"values":[0,5,10,15,20,30,45,60,75,90],"title":["Concentration of ADAMTS-5","in media(ng/mL)"],"titleY":63}},
          "y":{"field":"pos","type":"quantitative","scale":{"domain":[0.19,8.88],"nice":false,"zero":false},"axis":{"orient":"right","values":[4.5],"title":"E","titleX":-210,"titleY":357}},
          "fill":{"field":"il","type":"nominal","scale":{"domain":["−","+"],"range":["#ffffff","#cdcdcd"]},"legend":null}}},
        {"data":{"name":"bars"},"transform":[{"filter":"datum.panel=='E'"}],"mark":{"type":"rule","strokeWidth":1.8},"encoding":{"x":{"field":"value","type":"quantitative"},"x2":{"field":"err"},"y":{"field":"pos","type":"quantitative"}}},
        {"data":{"name":"bars"},"transform":[{"filter":"datum.panel=='E'"}],"mark":{"type":"tick","orient":"vertical","size":8,"thickness":1.8},"encoding":{"x":{"field":"err","type":"quantitative"},"y":{"field":"pos","type":"quantitative"}}},
        {"data":{"name":"axes"},"transform":[{"filter":"datum.panel=='E'"}],"mark":{"type":"rect","fill":"white"},"encoding":{"x":{"field":"lo","type":"quantitative"},"x2":{"field":"hi"}}},
        {"data":{"name":"axes"},"transform":[{"filter":"datum.panel=='E'"}],"mark":{"type":"rule","strokeWidth":1.8},"encoding":{"x":{"field":"z","type":"quantitative"},"x2":{"field":"lo"},"y":{"datum":0.19}}},
        {"data":{"name":"axes"},"transform":[{"filter":"datum.panel=='E'"}],"mark":{"type":"rule","strokeWidth":1.8},"encoding":{"x":{"field":"hi","type":"quantitative"},"x2":{"field":"max"},"y":{"datum":0.19}}},
        {"data":{"name":"ticks"},"transform":[{"filter":"datum.panel=='E'"}],"mark":{"type":"text","angle":270,"align":"right","baseline":"middle","dx":-7,"fontSize":10.5,"fontWeight":"bold"},"encoding":{"x":{"field":"v","type":"quantitative"},"y":{"datum":0.19},"text":{"field":"v","type":"quantitative","format":"d"}}},
        {"data":{"name":"ann"},"transform":[{"filter":"datum.panel=='E'"}],"mark":{"type":"rule","strokeWidth":1.5},"encoding":{"x":{"field":"val","type":"quantitative"},"y":{"field":"from","type":"quantitative"},"y2":{"field":"to"}}},
        {"data":{"name":"ann"},"transform":[{"filter":"datum.panel=='E'"}],"mark":{"type":"text","angle":270,"baseline":"alphabetic","fontSize":13},"encoding":{"x":{"field":"val","type":"quantitative"},"y":{"field":"mid","type":"quantitative"},"text":{"field":"label"}}}
       ]},
       {"width":141,"height":246,"data":{"name":"design"},"transform":[{"fold":["IL-1β","mimic-NC","miR-128-3p mimic","inhibitor-NC","miR-128-3p inhibitor"],"as":["factor","sign"]}],
        "mark":{"type":"text","angle":270,"fontSize":13,"fontWeight":"bold","baseline":"middle"},
        "encoding":{"x":{"field":"factor","type":"nominal","sort":["IL-1β","mimic-NC","miR-128-3p mimic","inhibitor-NC","miR-128-3p inhibitor"],"axis":{"title":null,"domain":false,"ticks":false,"labelPadding":13,"labelFontSize":11.5}},
         "y":{"field":"pos","type":"quantitative","scale":{"domain":[0.19,8.88],"nice":false,"zero":false},"axis":null},
         "text":{"field":"sign"}}}
   ]}
  ]}
 ]},
 {"width":795,"height":1,"data":{"values":[{"k":1}]},"mark":{"type":"point","opacity":0,"size":0,"strokeWidth":0},"encoding":{},"view":{"stroke":"black","strokeWidth":2}}
]
}
